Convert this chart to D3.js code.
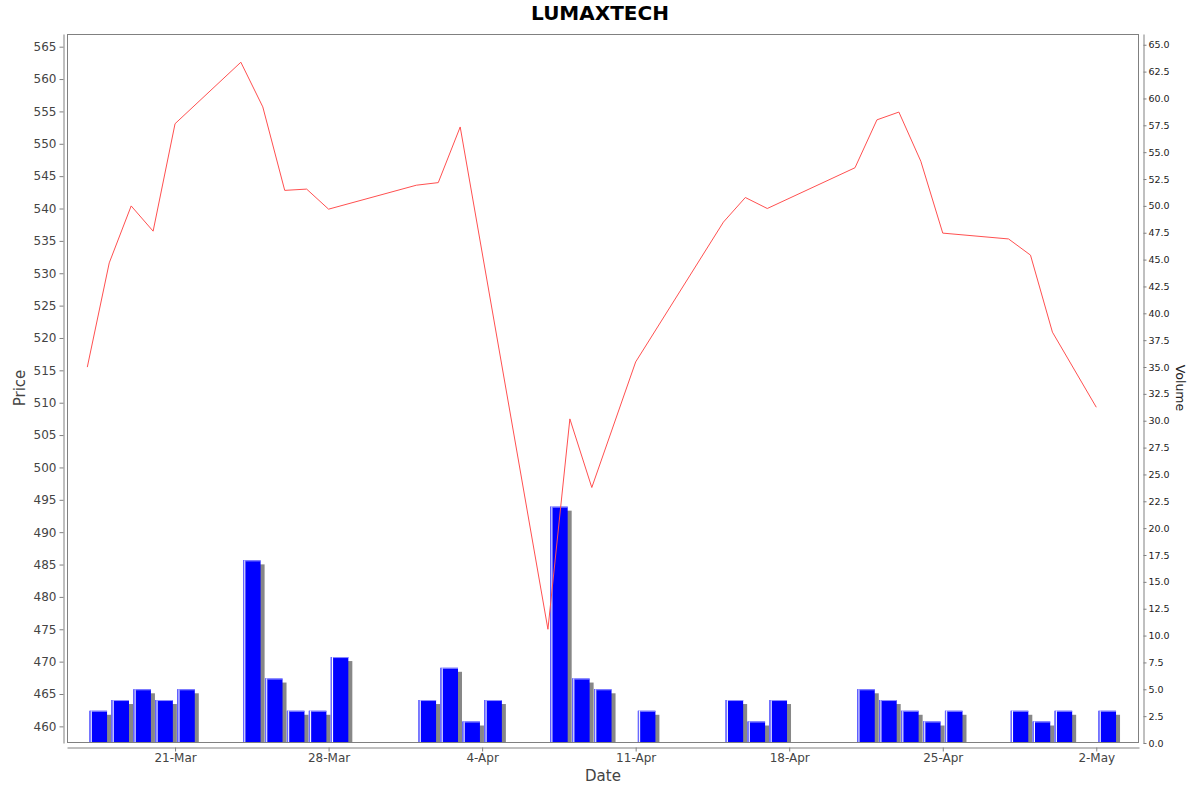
<!DOCTYPE html>
<html>
<head>
<meta charset="utf-8">
<script src="https://cdn.jsdelivr.net/npm/d3@7"></script>
<style>
  html, body { margin: 0; padding: 0; background: #fff; }
  svg { display: block; font-family: "DejaVu Sans", sans-serif; }
</style>
</head>
<body>
<svg id="chart" width="1200" height="792"></svg>
<script>
// ---- data ----
const title = "LUMAXTECH";
const dates = ["2025-03-17","2025-03-18","2025-03-19","2025-03-20","2025-03-21",
  "2025-03-24","2025-03-25","2025-03-26","2025-03-27","2025-03-28",
  "2025-04-01","2025-04-02","2025-04-03","2025-04-04",
  "2025-04-07","2025-04-08","2025-04-09","2025-04-11",
  "2025-04-15","2025-04-16","2025-04-17",
  "2025-04-21","2025-04-22","2025-04-23","2025-04-24","2025-04-25",
  "2025-04-28","2025-04-29","2025-04-30","2025-05-02"];
const prices = [515.5, 531.6, 540.4, 536.5, 553.1,
  562.6, 555.7, 542.8, 543.0, 539.9,
  543.6, 544.0, 552.6, null,
  475.0, 507.5, 496.9, 516.3,
  537.9, 541.7, 540.0,
  546.3, 553.7, 554.9, 547.3, 536.2,
  535.3, 532.8, 520.9, 509.3];
const volumes = [3, 4, 5, 4, 5,
  17, 6, 3, 3, 8,
  4, 7, 2, 4,
  22, 6, 5, 3,
  4, 2, 4,
  5, 4, 3, 2, 3,
  3, 2, 3, 3];
const priceTicks = [460,465,470,475,480,485,490,495,500,505,510,515,520,525,530,535,540,545,550,555,560,565];
const volumeTicks = [0,2.5,5,7.5,10,12.5,15,17.5,20,22.5,25,27.5,30,32.5,35,37.5,40,42.5,45,47.5,50,52.5,55,57.5,60,62.5,65];
const dateTicks = ["2025-03-21","2025-03-28","2025-04-04","2025-04-11","2025-04-18","2025-04-25","2025-05-02"];

// ---- layout ----
const plot = { left: 67, right: 1139, top: 34, bottom: 743 };
const parse = s => { const [y,m,d] = s.split("-").map(Number); return new Date(Date.UTC(y, m-1, d)); };
const DAY = 86400000;
const rows = dates.map((d, i) => ({ date: parse(d), price: prices[i], volume: volumes[i] }));

const x = d3.scaleUtc()
  .domain([new Date(parse("2025-03-17").getTime() - 0.926 * DAY), new Date(parse("2025-05-02").getTime() + 1.947 * DAY)])
  .range([plot.left, plot.right]);
const yP = d3.scaleLinear().domain([457.43, 566.96]).range([plot.bottom, plot.top]);
const yV = d3.scaleLinear().domain([0, 66.0]).range([plot.bottom, plot.top]);

const svg = d3.select("#chart");
svg.append("rect").attr("width", 1200).attr("height", 792).attr("fill", "#fff");

svg.append("defs").append("clipPath").attr("id", "plotclip")
  .append("rect").attr("x", plot.left).attr("y", plot.top)
  .attr("width", plot.right - plot.left).attr("height", plot.bottom - plot.top);

const g = svg.append("g").attr("clip-path", "url(#plotclip)");

const dayPx = x(new Date(DAY * 2)) - x(new Date(DAY));
const bx = d => x(d.date) + dayPx * 0.1;
const bw = dayPx * 0.8;

// shadows
g.selectAll("rect.shadow").data(rows).join("rect").attr("class", "shadow")
  .attr("x", d => bx(d) + 4).attr("y", d => yV(d.volume) + 4)
  .attr("width", bw).attr("height", d => yV(0) - yV(d.volume))
  .attr("fill", "#878787");
// bars
g.selectAll("rect.bar").data(rows).join("rect").attr("class", "bar")
  .attr("x", d => bx(d)).attr("y", d => yV(d.volume))
  .attr("width", bw).attr("height", d => yV(0) - yV(d.volume) + 2)
  .attr("fill", "#0000ff");
// highlights
g.selectAll("rect.hl").data(rows).join("rect").attr("class", "hl")
  .attr("x", d => bx(d)).attr("y", d => yV(d.volume))
  .attr("width", 1.2).attr("height", d => yV(0) - yV(d.volume) + 2)
  .attr("fill", "#6a6aff");
g.selectAll("rect.wh").data(rows).join("rect").attr("class", "wh")
  .attr("x", d => bx(d) + 1.2).attr("y", d => yV(d.volume))
  .attr("width", 1.1).attr("height", d => yV(0) - yV(d.volume) + 2)
  .attr("fill", "#ffffff");
g.selectAll("rect.tp").data(rows).join("rect").attr("class", "tp")
  .attr("x", d => bx(d) + 2.3).attr("y", d => yV(d.volume))
  .attr("width", bw - 2.3).attr("height", 1)
  .attr("fill", "#8f8fff");

// price line
const line = d3.line().x(d => x(d.date)).y(d => yP(d.price));
g.append("path").datum(rows.filter(d => d.price !== null))
  .attr("d", line).attr("fill", "none").attr("stroke", "#ff5050").attr("stroke-width", 1);

// frame
svg.append("rect").attr("x", plot.left + 0.5).attr("y", plot.top + 0.5)
  .attr("width", plot.right - plot.left - 1).attr("height", plot.bottom - plot.top - 1)
  .attr("fill", "none").attr("stroke", "#808080").attr("stroke-width", 1);

// axes
const axisColor = "#808080";
const leftAxis = svg.append("g").attr("transform", `translate(63.5,0)`)
  .call(d3.axisLeft(yP).tickValues(priceTicks).tickSize(4).tickSizeOuter(0).tickPadding(3).tickFormat(d3.format("d")));
leftAxis.selectAll("text").attr("font-size", 12).attr("fill", "#444").attr("font-family", "DejaVu Sans");

const rightAxis = svg.append("g").attr("transform", `translate(1143.5,0)`)
  .call(d3.axisRight(yV).tickValues(volumeTicks).tickSize(3).tickSizeOuter(0).tickPadding(2).tickFormat(d3.format(".1f")));
rightAxis.selectAll("text").attr("font-size", 9.5).attr("fill", "#222").attr("font-family", "DejaVu Sans");

const bottomAxis = svg.append("g").attr("transform", `translate(0,747.5)`)
  .call(d3.axisBottom(x).tickValues(dateTicks.map(parse)).tickSize(4).tickSizeOuter(0).tickPadding(2).tickFormat(d3.utcFormat("%-d-%b")));
bottomAxis.selectAll("text").attr("font-size", 12).attr("fill", "#444").attr("font-family", "DejaVu Sans");

[leftAxis, rightAxis, bottomAxis].forEach(a => {
  a.selectAll("path.domain").attr("stroke", axisColor);
  a.selectAll(".tick line").attr("stroke", axisColor);
});

// titles
svg.append("text").attr("x", 600).attr("y", 20).attr("text-anchor", "middle")
  .attr("font-size", 20).attr("font-weight", "bold").attr("fill", "#000").text(title);
svg.append("text").attr("x", 603).attr("y", 781).attr("text-anchor", "middle")
  .attr("font-size", 15).attr("fill", "#444").text("Date");
svg.append("text").attr("transform", "translate(25,388) rotate(-90)").attr("text-anchor", "middle")
  .attr("font-size", 15).attr("fill", "#444").text("Price");
svg.append("text").attr("transform", "translate(1176,388) rotate(90)").attr("text-anchor", "middle")
  .attr("font-size", 12.5).attr("fill", "#222").text("Volume");
</script>
</body>
</html>
